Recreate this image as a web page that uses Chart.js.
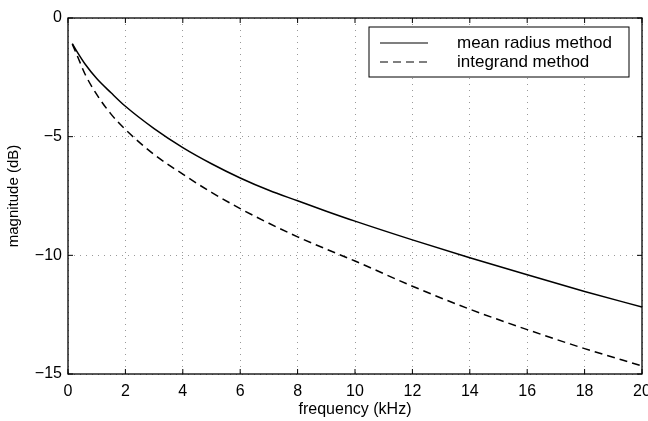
<!DOCTYPE html>
<html>
<head>
<meta charset="utf-8">
<script src="https://cdn.jsdelivr.net/npm/chart.js@4.4.1/dist/chart.umd.min.js"></script>
<style>
  html, body { margin: 0; padding: 0; background: #fff; }
  #wrap { width: 648px; height: 421px; position: relative; }
</style>
</head>
<body>
<div id="wrap"><canvas id="magChart"></canvas></div>
<script>
// frequency points (kHz) and magnitudes (dB)
const freqs = [0.15, 0.33, 0.6, 1, 1.5, 2, 3, 4, 5, 6, 7, 8, 9, 10, 12, 14, 16, 18, 20];
const meanRadius = [-1.08, -1.45, -1.95, -2.55, -3.15, -3.72, -4.66, -5.46, -6.14, -6.74, -7.26, -7.7, -8.14, -8.56, -9.35, -10.1, -10.82, -11.52, -12.18];
const integrand = [-1.1, -1.61, -2.38, -3.22, -4.05, -4.7, -5.75, -6.58, -7.35, -8.03, -8.65, -9.22, -9.74, -10.24, -11.3, -12.27, -13.13, -13.93, -14.66];
const xTicks = [0, 2, 4, 6, 8, 10, 12, 14, 16, 18, 20];
const yTicks = [0, -5, -10, -15];
const seriesNames = ['mean radius method', 'integrand method'];

const FONT = 'Liberation Sans, Arial, Helvetica, sans-serif';

function toPoints(ys) {
    return freqs.map((f, i) => ({ x: f, y: ys[i] }));
}

// box, inward ticks and legend, matlab style
const framePlugin = {
    id: 'frame',
    afterDraw(chart) {
        const ctx = chart.ctx;
        const a = chart.chartArea;
        const xs = chart.scales.x;
        const ys = chart.scales.y;
        ctx.save();
        ctx.strokeStyle = '#000';
        ctx.lineWidth = 1.3;
        ctx.setLineDash([]);
        ctx.strokeRect(a.left, a.top, a.right - a.left, a.bottom - a.top);
        ctx.lineWidth = 1;
        ctx.beginPath();
        xTicks.forEach(t => {
            const px = xs.getPixelForValue(t);
            ctx.moveTo(px, a.bottom); ctx.lineTo(px, a.bottom - 5);
            ctx.moveTo(px, a.top); ctx.lineTo(px, a.top + 5);
        });
        yTicks.forEach(t => {
            const py = ys.getPixelForValue(t);
            ctx.moveTo(a.left, py); ctx.lineTo(a.left + 5, py);
            ctx.moveTo(a.right, py); ctx.lineTo(a.right - 5, py);
        });
        ctx.stroke();

        // legend
        const bx = 369, by = 27, bw = 260, bh = 50;
        ctx.fillStyle = '#fff';
        ctx.fillRect(bx, by, bw, bh);
        ctx.lineWidth = 1;
        ctx.strokeRect(bx, by, bw, bh);
        ctx.font = '17px ' + FONT;
        ctx.textBaseline = 'middle';
        ctx.fillStyle = '#000';
        chart.data.datasets.forEach((ds, i) => {
            const ly = 43 + i * 19;
            ctx.lineWidth = 1.2;
            ctx.setLineDash(ds.borderDash || []);
            ctx.beginPath();
            ctx.moveTo(380, ly);
            ctx.lineTo(428, ly);
            ctx.stroke();
            ctx.setLineDash([]);
            ctx.fillText(ds.label, 457, ly);
        });
        ctx.restore();
    }
};

new Chart(document.getElementById('magChart'), {
    type: 'line',
    data: {
        datasets: [{
            label: seriesNames[0],
            data: toPoints(meanRadius),
            borderColor: '#000',
            borderWidth: 1.5,
            pointRadius: 0,
            cubicInterpolationMode: 'monotone',
            fill: false
        }, {
            label: seriesNames[1],
            data: toPoints(integrand),
            borderColor: '#000',
            borderWidth: 1.5,
            borderDash: [8, 5],
            pointRadius: 0,
            cubicInterpolationMode: 'monotone',
            fill: false
        }]
    },
    options: {
        responsive: true,
        maintainAspectRatio: false,
        animation: false,
        layout: { padding: { top: 18, right: 6, left: 0, bottom: 0 } },
        plugins: {
            legend: { display: false },
            tooltip: { enabled: false }
        },
        scales: {
            x: {
                type: 'linear',
                min: 0,
                max: 20,
                afterBuildTicks: s => { s.ticks = xTicks.map(v => ({ value: v })); },
                afterFit: s => { s.height = 47; s.paddingRight = 0; s.paddingLeft = 0; },
                grid: {
                    color: '#999',
                    lineWidth: 1,
                    drawTicks: false
                },
                border: { display: false, dash: [1, 5] },
                ticks: {
                    color: '#000',
                    padding: 8,
                    maxRotation: 0,
                    font: { family: FONT, size: 16 }
                },
                title: {
                    display: true,
                    text: 'frequency (kHz)',
                    color: '#000',
                    padding: { top: 0, bottom: 2 },
                    font: { family: FONT, size: 16 }
                }
            },
            y: {
                type: 'linear',
                min: -15,
                max: 0,
                afterBuildTicks: s => { s.ticks = yTicks.map(v => ({ value: v })); },
                afterFit: s => { s.width = 68; s.paddingTop = 0; s.paddingBottom = 0; },
                grid: {
                    color: '#999',
                    lineWidth: 1,
                    drawTicks: false
                },
                border: { display: false, dash: [1, 5] },
                ticks: {
                    color: '#000',
                    padding: 6,
                    font: { family: FONT, size: 16 },
                    callback: v => (v < 0 ? '\u2212' + Math.abs(v) : String(v))
                },
                title: {
                    display: true,
                    text: 'magnitude (dB)',
                    color: '#000',
                    padding: { top: 5, bottom: 0 },
                    font: { family: FONT, size: 15 }
                }
            }
        }
    },
    plugins: [framePlugin]
});
</script>
</body>
</html>
